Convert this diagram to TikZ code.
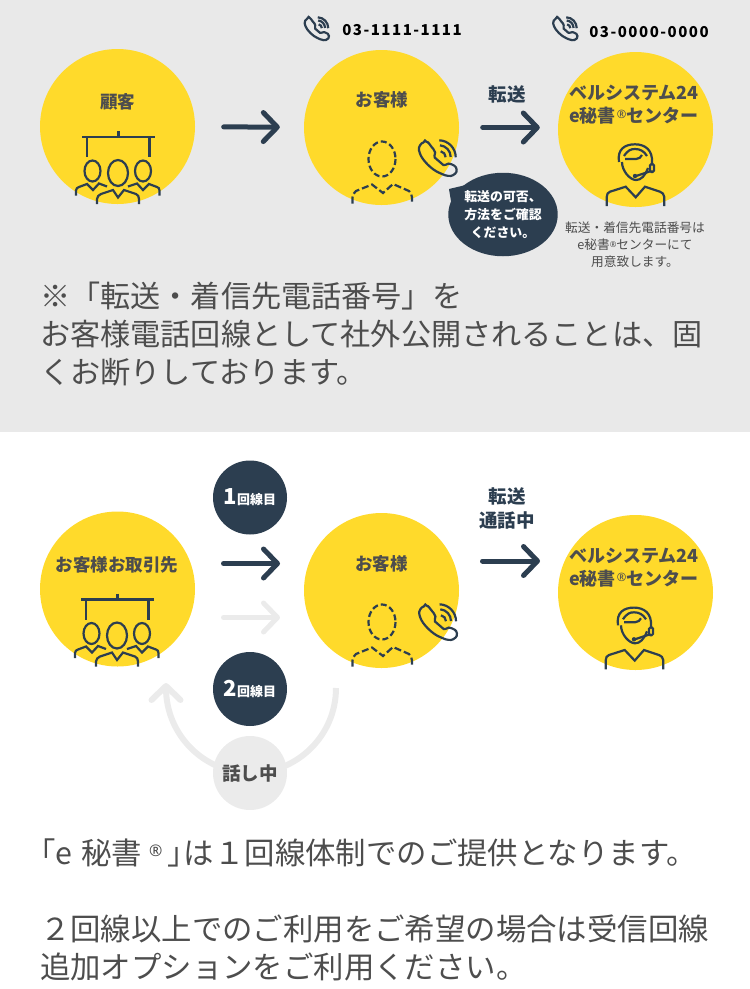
\documentclass[tikz,border=0pt]{standalone}
\usepackage{fontspec}
\usetikzlibrary{arrows.meta,shapes.geometric}
\setmainfont{Noto Sans CJK JP}
\newfontfamily\numfont{Noto Sans}
\definecolor{bandgray}{HTML}{E9E9E9}
\definecolor{softgray}{HTML}{EBEBEB}
\definecolor{sunyellow}{HTML}{FFDA2B}
\definecolor{navy}{HTML}{2C3E50}
\definecolor{inkgray}{HTML}{4D4D4D}
\newcommand{\regmark}{\hspace{1pt}\raisebox{3.5pt}{\numfont\fontsize{11.5}{11.5}\selectfont ®}\hspace{0.5pt}}
\tikzset{
  crowd_icon/.pic={
    \draw[icon_line,line width=2.8pt] (-35.5,10.5) -- (37.5,10.5);
    \draw[icon_line] (1,4.5) -- (1,10.5);
    \draw[icon_line] (-30.5,10.5) -- (-30.5,30.5);
    \draw[icon_line] (32,10.5) -- (32,30.5);
    \draw[icon_line] (-25,44.5) ellipse (8 and 10.5);
    \draw[icon_line] (0.5,46.5) ellipse (10 and 13);
    \draw[icon_line] (25.5,44.5) ellipse (8 and 10.5);
    \draw[icon_line] (-41.5,69) -- (-41.5,64) .. controls (-41.5,62) and (-40,61) .. (-38.5,60.5) -- (-30.5,57.5) -- (-24.5,63.5) -- (-18.5,57) -- (-10.5,60);
    \draw[icon_line] (10.5,60) -- (19.5,57) -- (25.5,63.5) -- (31.5,57.5) -- (39.5,60.5) .. controls (41,61) and (42,62) .. (42,64) -- (42,69);
    \draw[icon_line] (-20.5,77.5) -- (-20.5,72.5) .. controls (-20.5,70) and (-18.5,68.5) .. (-16.5,67.5) -- (-4.5,63.5) -- (0.5,71) -- (6.5,63.5) -- (18.5,67.5) .. controls (20.5,68.5) and (21.5,70) .. (21.5,72.5) -- (21.5,77.5);
  },
  person_icon/.pic={
    \draw[icon_line,dash pattern=on 6pt off 3pt] (0.5,31.5) ellipse (13.5 and 17.5);
    \draw[icon_line,dash pattern=on 7pt off 3pt] (-29,76) -- (-29,70) .. controls (-29,67) and (-27,65) .. (-25.5,63.5) -- (-9.5,57) -- (1.5,65.5) -- (11.5,56.5) -- (27.5,63.5) .. controls (29,65) and (30.5,67) .. (30.5,70) -- (30.5,76);
  },
  phone_icon/.pic={
    \draw[icon_line,rounded corners=1.5pt] (15,10) .. controls (11,11) and (8,15) .. (9.5,20) .. controls (12,28) and (22,38) .. (31,41.5) .. controls (36,44) and (41,44.5) .. (44,42.5) .. controls (47.5,40) and (47,35) .. (43,33) .. controls (40,31.5) and (37,31) .. (34.5,34) -- (23.5,24.5) .. controls (26,22) and (25,19) .. (22.5,16) .. controls (20,13) and (18,9.5) .. (15,10) -- cycle;
    \draw[icon_line] (30.7,19.3) arc[start angle=-80,end angle=0,radius=6];
    \draw[icon_line] (30,13.3) arc[start angle=-85,end angle=0,radius=11.7];
    \draw[icon_line] (29.3,8.3) arc[start angle=-88,end angle=0,radius=17];
  },
  operator_icon/.pic={
    \draw[icon_line] (24,27) .. controls (22,14) and (30,9.3) .. (40,9.3) .. controls (50,9.3) and (58,15) .. (57,28);
    \draw[icon_line] (29,21) .. controls (33,15) and (36,14) .. (40,14) .. controls (45,14) and (49,16) .. (52,21);
    \draw[icon_line] (27,27) .. controls (27,36) and (35,45) .. (41,45) .. controls (46,45) and (50,41) .. (53,33);
    \draw[icon_line] (30,24) -- (41,24) .. controls (44,24) and (46,22) .. (47,20);
    \draw[icon_line,rounded corners=1.5pt] (55,29) rectangle (59,37);
    \draw[icon_line] (56,36) -- (41,41);
    \fill[navy] (40,41) circle (2.2);
    \draw[icon_line] (11.7,71) -- (11.7,62) .. controls (11.7,59) and (13,57.5) .. (15,56.7) -- (30.7,51.7) -- (40.7,62.3) -- (50,51.7) -- (65,56.7) .. controls (67,57.5) and (69.3,59) .. (69.3,62) -- (69.3,71);
  },
}
\begin{document}
\begin{tikzpicture}[x=1pt,y=-1pt]
    \tikzstyle{icon_line} = [draw=navy,line width=2.2pt]
    \tikzstyle{node_yellow} = [circle,fill=sunyellow,minimum size=155pt,inner sep=0pt]
    \tikzstyle{node_navy} = [circle,fill=navy,minimum size=74pt,inner sep=0pt]
    \tikzstyle{node_soft} = [circle,fill=softgray,minimum size=74pt,inner sep=0pt]
    \tikzstyle{arrow_style} = [draw=navy,line width=5pt,line cap=round,-{Straight Barb[length=14pt,width=29pt,round]}]
    \tikzstyle{arrow_soft} = [arrow_style,draw=softgray]
    \tikzstyle{label_style} = [inner sep=0pt,text=inkgray,align=center,font=\bfseries\fontsize{17.5}{23}\selectfont]
    \tikzstyle{label_wide} = [label_style,font=\bfseries\fontsize{18}{23}\selectfont]
    \tikzstyle{label_navy} = [inner sep=0pt,text=navy,align=center,font=\bfseries\fontsize{18.5}{24}\selectfont]
    \tikzstyle{small_label} = [inner sep=0pt,text=inkgray,align=center,font=\fontsize{12.7}{17}\selectfont]
    \tikzstyle{body_text} = [inner sep=0pt,anchor=west,align=left,text=inkgray]
    \tikzstyle{tel_text} = [inner sep=0pt,font=\bfseries\fontsize{15}{18}\selectfont\addfontfeature{LetterSpace=10}]
    \useasboundingbox (0,0) rectangle (750,989);
    \fill[bandgray] (0,0) rectangle (750,432);

    % upper row
    \node[node_yellow] (c1) at (117.5,126.5) {};
    \node[node_yellow] (c2) at (381.5,127.5) {};
    \node[node_yellow] (c3) at (635.5,129.5) {};
    \node[label_style] (t1) at (117.5,101.5) {顧客};
    \node[label_style] (t2) at (382,99.5) {お客様};
    \node[label_wide] (t3) at (634,104.5) {ベルシステム24\\e秘書\regmark センター};
    \pic at (c1) {crowd_icon};
    \pic at (c2) {person_icon};
    \pic at (410,132) {phone_icon};
    \pic at (595,135) {operator_icon};
    \pic[scale=0.64] at (299,12) {phone_icon};
    \pic[scale=0.64] at (547.5,12) {phone_icon};
    \node[tel_text] (tel1) at (402,30) {03-1111-1111};
    \node[tel_text] (tel2) at (649,32) {03-0000-0000};
    \node[label_navy] (t4) at (507,94) {転送};
    \draw[arrow_style,shorten <=28.5pt,shorten >=24pt] (c1) -- (c2);
    \draw[arrow_style,shorten <=23.5pt,shorten >=18pt] (c2.east) -- (c2.east -| c3.west);

    \fill[navy] (449,189) -- (470,184) -- (456,232) -- cycle;
    \node[ellipse,fill=navy,minimum width=108pt,minimum height=83.5pt,inner sep=0pt,text=white,align=center,font=\bfseries\fontsize{12.9}{18}\selectfont] (bubble) at (503,214.5) {転送の可否、\\方法をご確認\\ください。};
    \node[small_label] (note) at (635,245) {転送・着信先電話番号は\\e秘書\raisebox{2pt}{\numfont\fontsize{8}{8}\selectfont ®}センターにて\\用意致します。};
    \node[body_text,font=\fontsize{30.15}{38}\selectfont] (para1) at (40,334) {※「転送・着信先電話番号」を\\お客様電話回線として社外公開されることは、固\\くお断りしております。};

    % lower row
    \node[node_yellow] (c4) at (117.5,589) {};
    \node[node_yellow] (c5) at (381.5,590.5) {};
    \node[node_yellow] (c6) at (635.5,592.5) {};
    \node[label_style] (t5) at (117,564.5) {お客様お取引先};
    \node[label_style] (t6) at (381.5,563.5) {お客様};
    \node[label_wide] (t7) at (634,567.5) {ベルシステム24\\e秘書\regmark センター};
    \pic at (116.5,589) {crowd_icon};
    \pic at (c5) {person_icon};
    \pic at (410.3,596) {phone_icon};
    \pic at (594,598.3) {operator_icon};
    \node[label_navy] (t8) at (507,508) {転送\\通話中};
    \coordinate (a1) at (195,563.5);
    \coordinate (b1) at (304,563.5);
    \coordinate (a2) at (195,617.5);
    \coordinate (b2) at (304,617.5);
    \coordinate (a3) at (459,561);
    \coordinate (b3) at (558,561);
    \draw[arrow_style,shorten <=28.5pt,shorten >=24pt] (a1) -- (b1);
    \draw[arrow_soft,shorten <=28.5pt,shorten >=24pt] (a2) -- (b2);
    \draw[arrow_style,shorten <=23.5pt,shorten >=18pt] (a3) -- (b3);

    \coordinate (loop) at (336,688);
    \draw[draw=softgray,line width=6pt,line cap=butt,-{Straight Barb[length=14pt,width=29pt,round]}] (loop) arc[start angle=0,end angle=180,radius=85] -- ++(0,-5);
    \node[node_navy] (n1) at (250,497.5) {};
    \node[node_navy] (n2) at (250,689) {};
    \node[node_soft] (n3) at (250,773) {};
    \node[inner sep=0pt,text=white,font=\bfseries\fontsize{13}{13}\selectfont] (l1) at (n1) {{\fontsize{22}{22}\selectfont 1}回線目};
    \node[inner sep=0pt,text=white,font=\bfseries\fontsize{13}{13}\selectfont] (l2) at (n2) {{\fontsize{22}{22}\selectfont 2}回線目};
    \node[inner sep=0pt,text=inkgray,font=\bfseries\fontsize{18.5}{18.5}\selectfont] (l3) at (n3) {話し中};

    \node[body_text,font=\fontsize{30.4}{38}\selectfont] (para2) at (40,910) {\hspace{-15pt}「e\hspace{9pt}秘書\hspace{7pt}\raisebox{8pt}{\numfont\fontsize{16}{16}\selectfont ®}\hspace{5pt}」\hspace{-14pt}は１回線体制でのご提供となります。\\[38pt]２回線以上でのご利用をご希望の場合は受信回線\\追加オプションをご利用ください。};
\end{tikzpicture}
\end{document}
